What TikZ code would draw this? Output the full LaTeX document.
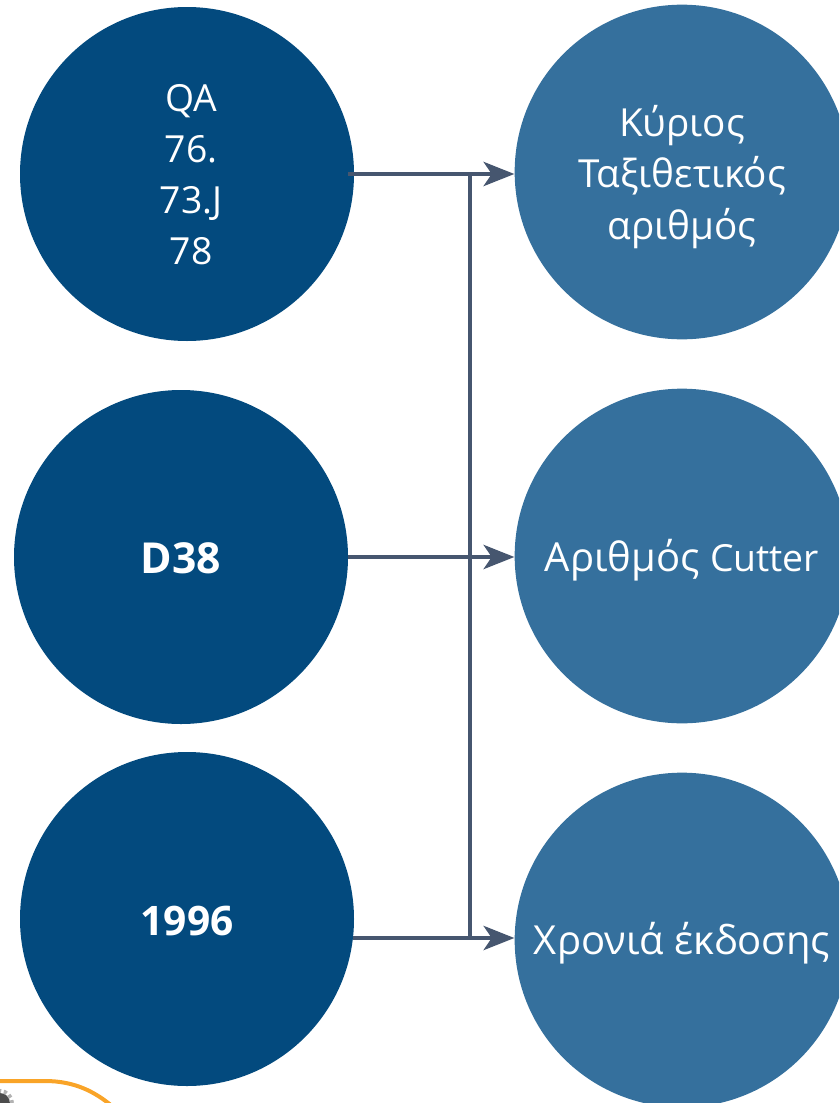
\documentclass[tikz,border=0pt]{standalone}
\usepackage{xcolor}
\usepackage{fontspec}
\setmainfont{Open Sans}
\usetikzlibrary{arrows.meta}
\definecolor{darkblue}{HTML}{034A7E}
\definecolor{midblue}{HTML}{35709D}
\definecolor{linkgray}{HTML}{46566F}
\definecolor{curveorange}{HTML}{F9A428}
\tikzset{code/.style={circle,fill=darkblue,text=white,minimum size=250.5pt,inner sep=0pt}}
\tikzset{part/.style={circle,fill=midblue,text=white,minimum size=251pt,inner sep=0pt}}
\tikzset{label/.style={text=white,align=center,font=\fontsize{30}{38.3}\selectfont}}
\tikzset{link/.style={draw=linkgray,line width=3.6pt}}

\begin{document}
\begin{tikzpicture}[x=0.75pt,y=-0.75pt,>={Stealth[length=23pt,width=18pt,inset=6pt]}]
    \useasboundingbox (0,0) rectangle (839,1103);
    \clip (0,0) rectangle (839,1103);

    \node[code] (qa) at (187,174) {};
    \node[code] (cutter) at (181,557) {};
    \node[code] (year) at (187,919) {};
    \node[part] (main) at (682,172) {};
    \node[part] (number) at (682,556) {};
    \node[part] (edition) at (682,940) {};

    \node[label,font=\fontsize{28}{38.3}\selectfont] (qatext) at (191,175) {QA\\76.\\73.J\\78};
    \node[label,font=\fontsize{32}{38}\selectfont\bfseries] (cuttertext) at (181,558) {D38};
    \node[label,font=\fontsize{30.5}{38}\selectfont\bfseries] (yeartext) at (187,921) {1996};
    \node[label,font=\fontsize{29}{38.3}\selectfont] (maintext) at (682,177) {Κύριος\\Ταξιθετικός\\αριθμός};
    \node[label] (numbertext) at (682,560) {Αριθμός {\fontsize{28}{38}\selectfont Cutter}};
    \node[label] (editiontext) at (682,943) {Χρονιά έκδοσης};

    \coordinate (a1) at (348,174);
    \coordinate (a2) at (348,557);
    \coordinate (a3) at (353,938);
    \coordinate (j1) at (470,174);
    \coordinate (j3) at (470,938);

    \draw [link] (j1) to [] (j3);
    \draw [link,->] (a1) to [] (a1 -| main.west);
    \draw [link,->] (a2) to [] (a2 -| number.west);
    \draw [link,->] (a3) to [] (a3 -| edition.west);

    % corner of the next figure
    \draw [curveorange,line width=3pt] (0,1081) to (45,1081) .. controls (75,1081) and (95,1092) .. (112,1106);
    \fill [black!70] (0,1103) circle (10);
    \draw [gray!60,line width=3pt,dash pattern=on 2.5pt off 2pt] (0,1103) circle (12);
\end{tikzpicture}
\end{document}
